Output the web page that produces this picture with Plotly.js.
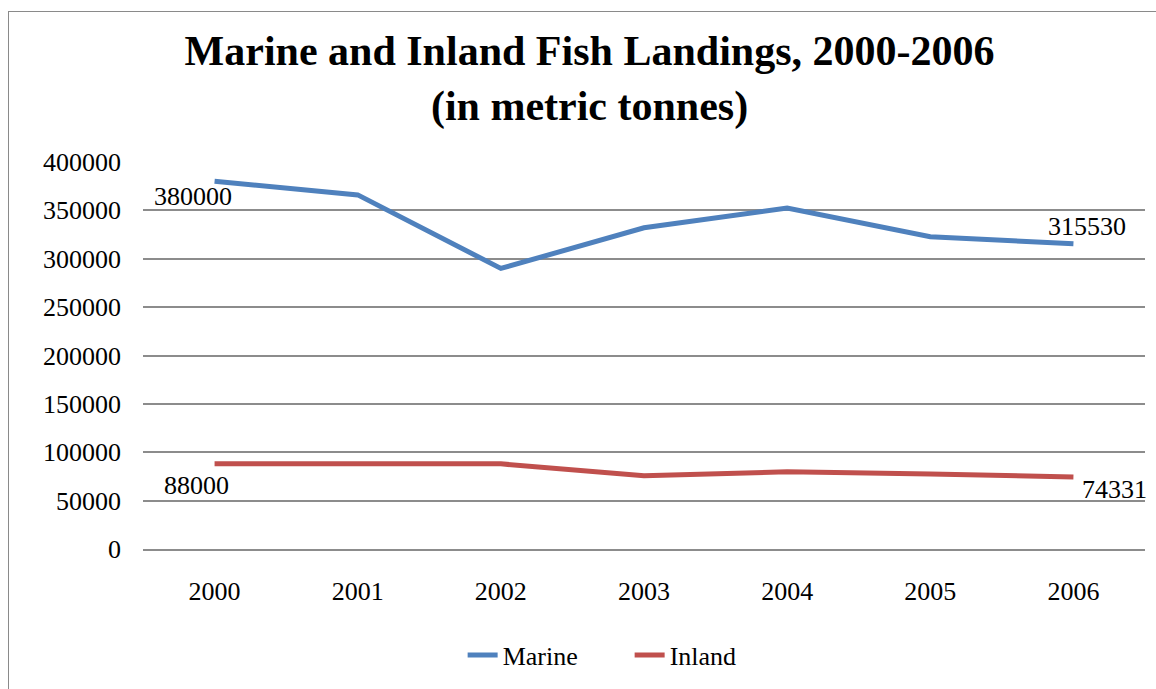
<!DOCTYPE html>
<html>
<head>
<meta charset="utf-8">
<script src="https://cdn.plot.ly/plotly-3.0.1.min.js"></script>
<style>
  html, body { margin: 0; padding: 0; background: #fff; }
  #wrap { position: relative; width: 1156px; height: 689px; }
  #chart { width: 1156px; height: 689px; }
  #frame { position: absolute; left: 8px; top: 11px; width: 1160px; height: 700px;
           border-left: 1.5px solid #8a8a8a; border-top: 1.5px solid #8a8a8a; pointer-events: none; }
</style>
</head>
<body>
<div id="wrap">
  <div id="chart"></div>
  <div id="frame"></div>
</div>
<script>
const years = ['2000', '2001', '2002', '2003', '2004', '2005', '2006'];
const marine = [380000, 366000, 290000, 332000, 352500, 322700, 315530];
const inland = [88000, 88000, 88000, 75700, 79800, 77600, 74331];
const yTicks = [0, 50000, 100000, 150000, 200000, 250000, 300000, 350000, 400000];

const font = 'Liberation Serif, Times New Roman, serif';

const traces = [
  { x: years, y: marine, name: 'Marine', type: 'scatter', mode: 'lines',
    line: { color: '#4F81BD', width: 5 } },
  { x: years, y: inland, name: 'Inland', type: 'scatter', mode: 'lines',
    line: { color: '#C0504D', width: 5 } }
];

const last = years.length - 1;
const labelSpecs = [
  { i: 0, vals: marine, xshift: -22, yshift: -15 },
  { i: last, vals: marine, xshift: 14, yshift: 17 },
  { i: 0, vals: inland, xshift: -18, yshift: -22 },
  { i: last, vals: inland, xshift: 41, yshift: -12 }
];
const annotations = labelSpecs.map(s => ({
  xref: 'x', yref: 'y', x: s.i, y: s.vals[s.i], text: String(s.vals[s.i]),
  showarrow: false, xshift: s.xshift, yshift: s.yshift,
  font: { family: font, size: 26, color: '#000' }
}));

const layout = {
  width: 1156, height: 689,
  margin: { l: 143, r: 11, t: 162, b: 137 },
  paper_bgcolor: '#fff', plot_bgcolor: '#fff',
  font: { family: font, size: 26, color: '#000' },
  title: { text: '<b>Marine and Inland Fish Landings, 2000-2006<br>(in metric tonnes)</b>',
    font: { family: font, size: 42, color: '#000' },
    x: 0.51, xanchor: 'center', y: 0.905, yanchor: 'middle' },
  xaxis: { type: 'category', range: [-0.5, 6.5], showgrid: false,
    showline: true, linecolor: '#8c8c8c', linewidth: 2,
    ticks: '', ticklabelstandoff: 18, tickfont: { family: font, size: 26 }, zeroline: false, fixedrange: true },
  yaxis: { range: [0, 400000], tickvals: yTicks, ticktext: yTicks.map(String),
    showgrid: true, gridcolor: '#8c8c8c', gridwidth: 2,
    ticks: '', showline: false, zeroline: false, ticklabelstandoff: 21,
    tickfont: { family: font, size: 26 }, fixedrange: true },
  legend: { orientation: 'h', x: 0.319, xanchor: 'left', y: -0.274, yanchor: 'middle',
    font: { family: font, size: 26 }, entrywidth: 122, entrywidthmode: 'pixels' },
  annotations: annotations,
  showlegend: true
};

Plotly.newPlot('chart', traces, layout, { displayModeBar: false, staticPlot: true });
</script>
</body>
</html>
